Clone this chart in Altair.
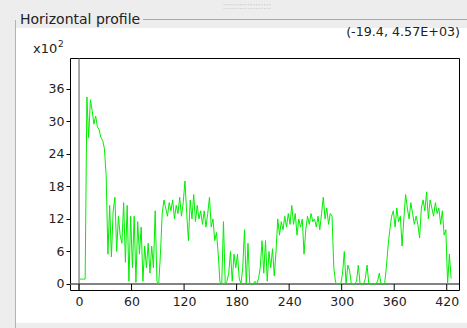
import altair as alt
import pandas as pd

# ---------------- data ----------------
profile_x_start = 1
profile_x_step = 2
profile_values = [
    0.9, 0.9, 0.9, 0.9, 34.5, 27, 34, 32, 29.5, 31, 29, 28.5, 27, 26.5, 25, 20,          # 1..31
    5.5, 14.5, 5, 13.5, 16, 6, 12.5, 9, 7.5, 15, 4, 14.5, 0.5, 12.5, 3, 12.5,           # 33..63
    0.3, 11.5, 5.5, 10.5, 0.5, 7, 3, 7.5, 2, 7, 3, 13.5, 0.5, 0, 5.5,                   # 65..93
    13, 15.5, 14, 12.5, 15, 13.5, 15.5, 12, 14.5, 13, 16, 12.5, 15, 19, 13, 8,          # 95..125
    15.5, 12, 16.5, 11.5, 14.5, 12, 13.5, 11, 13.5, 10.5, 13, 16, 10.5, 12, 8, 9.5,     # 127..157
    5.5, 0.3, 0, 11.5, 0, 0.5, 2, 6, 0.5, 5.5, 3, 5.5, 1, 0, 3, 10,                     # 159..189
    0, 7.5, 0, 0, 0, 0.5, 0, 1, 3, 8, 2, 8, 0.5, 6, 3, 6.5,                            # 191..221
    1.5, 6, 12, 9, 11.5, 10, 12.5, 10.5, 13, 11, 14.5, 11, 13, 9, 12, 10.5,             # 223..253
    12, 5.5, 10, 12.5, 11, 13, 11.5, 12, 10.5, 12.5, 10, 13, 16, 12, 14, 11,            # 255..285
    13, 12.5, 3, 0.3, 0, 0, 0, 2, 6, 0, 3.5, 2.5, 0, 0, 0, 0.5,                        # 287..317
    3.5, 0, 0, 0, 1, 3.5, 0, 0, 0, 0, 0, 0.5, 2, 0, 0, 0,                              # 319..349
    3, 7, 10, 12.5, 13.5, 10.5, 14, 11.5, 12.5, 7, 12, 16.5, 14, 12, 15, 13,            # 351..381
    11, 12.5, 11, 8.5, 14, 15.5, 13.5, 17, 12, 15.5, 14, 12.5, 15, 13, 14, 11,          # 383..413
    13.5, 9, 10, 0, 5.5, 1,                                                              # 415..425
]
x_ticks = [0, 60, 120, 180, 240, 300, 360, 420]
y_ticks = [0, 6, 12, 18, 24, 30, 36]
title_text = "Horizontal profile"
coord_text = "(-19.4, 4.57E+03)"
exp_base = "x10"
exp_power = "2"

xs = [profile_x_start + i * profile_x_step for i in range(len(profile_values))]
df = pd.DataFrame({"x": xs, "v": profile_values})

# ---------------- layout ----------------
W, H = 389, 232
X_DOMAIN = [-10.3, 434]
Y_DOMAIN = [-1.11, 41.7]
xsc = alt.Scale(domain=X_DOMAIN, nice=False, zero=False)
ysc = alt.Scale(domain=Y_DOMAIN, nice=False, zero=False)
FONT = "DejaVu Sans"
GRAY = "#ededed"
one = alt.Data(values=[{"a": 1}])

x_axis = alt.Axis(values=x_ticks, title=None, grid=False, domain=False,
                  tickSize=0, labelPadding=5, labelFont=FONT,
                  labelFontSize=12.5, labelColor="#222222", labelFlush=False)
y_axis = alt.Axis(values=y_ticks, title=None, grid=False, domain=False,
                  tickSize=4, tickColor="black", labelPadding=2, labelFont=FONT,
                  labelFontSize=12.5, labelColor="#222222", labelFlush=False)


def box(x1, x2, y1, y2, color):
    return alt.Chart(one).mark_rect(fill=color, strokeWidth=0).encode(
        x=alt.value(x1), x2=alt.value(x2), y=alt.value(y1), y2=alt.value(y2))


def label(text, x, y, size, align="left", color="#222222"):
    return alt.Chart(one).mark_text(
        align=align, baseline="alphabetic", font=FONT, fontSize=size, color=color
    ).encode(x=alt.value(x), y=alt.value(y), text=alt.value(text))


bg_top = box(-70, 397, -58, -30, GRAY)
bg_left = box(-70, -55, -58, 270, GRAY)
bg_bottom = box(-55, 397, 265, 270, GRAY)

border_top = alt.Chart(one).mark_rule(color="#a8a8a8", strokeWidth=1).encode(
    x=alt.value(73), x2=alt.value(397), y=alt.value(-38.5))
border_left = alt.Chart(one).mark_rule(color="#b4b4b4", strokeWidth=1).encode(
    x=alt.value(-54.5), y=alt.value(-38), y2=alt.value(270))
splitter = label("::::::::::::::::::", 177, -49, 8, align="center", color="#c4c4c4")

t_title = label(title_text, -50, -34, 14)
t_coord = label(coord_text, 390, -22, 12.7, align="right")
t_exp = label(exp_base, -37, -5, 13)
t_pow = label(exp_power, -12, -11, 9)

line = alt.Chart(df).mark_line(color="#00ee00", strokeWidth=1, clip=True).encode(
    x=alt.X("x:Q", scale=xsc, axis=x_axis),
    y=alt.Y("v:Q", scale=ysc, axis=y_axis),
)

zero_v = alt.Chart(pd.DataFrame({"x": [0]})).mark_rule(color="#555555", strokeWidth=1).encode(
    x=alt.X("x:Q", scale=xsc, axis=x_axis))
zero_h = alt.Chart(pd.DataFrame({"y": [0]})).mark_rule(color="#5a5a5a", strokeWidth=1.5).encode(
    y=alt.Y("y:Q", scale=ysc, axis=y_axis))

xtick_df = pd.DataFrame({"x": x_ticks, "zero": [0] * len(x_ticks)})
xticks_in = alt.Chart(xtick_df).mark_rule(color="black", strokeWidth=1).encode(
    x=alt.X("x:Q", scale=xsc, axis=x_axis),
    y=alt.Y("zero:Q", scale=ysc, axis=y_axis),
    y2=alt.value(H))

chart = alt.layer(
    bg_top, bg_left, bg_bottom, border_top, border_left, splitter,
    t_title, t_coord, t_exp, t_pow,
    zero_v, zero_h, xticks_in, line,
).properties(
    width=W, height=H,
    autosize=alt.AutoSizeParams(type="none"),
    padding={"left": 70, "top": 58, "right": 8, "bottom": 38},
    background="white",
).configure_view(stroke="black", strokeWidth=1)

chart.save("out.html", embed_options={"renderer": "svg", "actions": False})
